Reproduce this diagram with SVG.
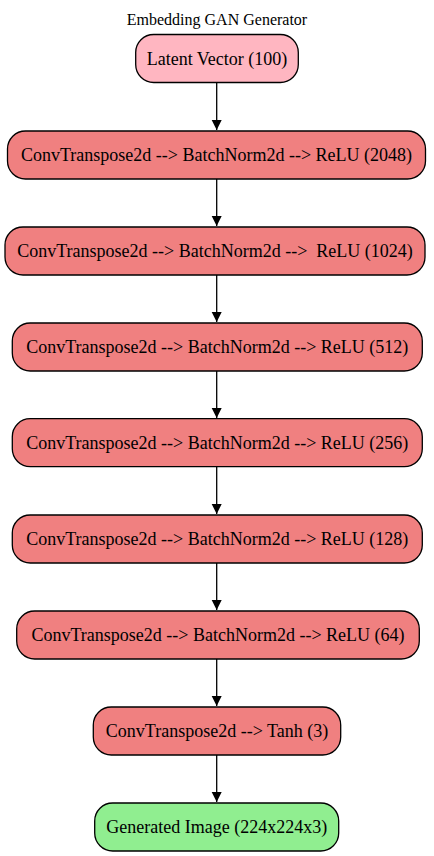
<svg xmlns="http://www.w3.org/2000/svg" width="434" height="856" viewBox="0 0 434 856">
<style>
rect{stroke:#000;stroke-width:1.3}
.p{fill:#ffb6c1}
.r{fill:#f08080}
.g{fill:#90ee90}
text{font-family:"Liberation Serif","Times New Roman",serif;fill:#000;text-anchor:middle;white-space:pre}
.n{font-size:18px}
.t{font-size:16px}
.e{stroke:#000;stroke-width:1.3;fill:none}
</style>
<defs>
<marker id="a" markerWidth="10" markerHeight="14" refX="10" refY="7" orient="auto" markerUnits="userSpaceOnUse">
<path d="M0,2 L10,7 L0,12 Z" fill="#000"/>
</marker>
</defs>
<rect width="434" height="856" fill="#fff" style="stroke:none"/>
<text class="t" x="217" y="25">Embedding GAN Generator</text>
<g id="edges">
<path class="e" d="M216.7,83 V130" marker-end="url(#a)"/>
<path class="e" d="M216.7,179 V226" marker-end="url(#a)"/>
<path class="e" d="M216.7,275 V322" marker-end="url(#a)"/>
<path class="e" d="M216.7,371 V418" marker-end="url(#a)"/>
<path class="e" d="M216.7,467 V514" marker-end="url(#a)"/>
<path class="e" d="M216.7,563 V610" marker-end="url(#a)"/>
<path class="e" d="M216.7,659 V706" marker-end="url(#a)"/>
<path class="e" d="M216.7,755 V802" marker-end="url(#a)"/>
</g>
<g id="latent"><rect class="p" x="135.7" y="34.5" width="162.6" height="48" rx="18"/><text class="n" x="217" y="64.5">Latent Vector (100)</text></g>
<g id="l2048"><rect class="r" x="7.5" y="131" width="418" height="48" rx="18"/><text class="n" x="216.5" y="161">ConvTranspose2d --&gt; BatchNorm2d --&gt; ReLU (2048)</text></g>
<g id="l1024"><rect class="r" x="5" y="227" width="420" height="48" rx="18"/><text class="n" x="215" y="257" xml:space="preserve">ConvTranspose2d --&gt; BatchNorm2d --&gt;  ReLU (1024)</text></g>
<g id="l512"><rect class="r" x="12.3" y="323" width="410" height="48" rx="18"/><text class="n" x="217.3" y="353">ConvTranspose2d --&gt; BatchNorm2d --&gt; ReLU (512)</text></g>
<g id="l256"><rect class="r" x="12.3" y="418.7" width="410" height="48" rx="18"/><text class="n" x="217.3" y="448.7">ConvTranspose2d --&gt; BatchNorm2d --&gt; ReLU (256)</text></g>
<g id="l128"><rect class="r" x="12.3" y="515" width="410" height="48" rx="18"/><text class="n" x="217.3" y="545">ConvTranspose2d --&gt; BatchNorm2d --&gt; ReLU (128)</text></g>
<g id="l64"><rect class="r" x="16.7" y="611" width="402.6" height="48" rx="18"/><text class="n" x="218" y="641">ConvTranspose2d --&gt; BatchNorm2d --&gt; ReLU (64)</text></g>
<g id="tanh"><rect class="r" x="93.3" y="707" width="247.4" height="48" rx="18"/><text class="n" x="217" y="737">ConvTranspose2d --&gt; Tanh (3)</text></g>
<g id="output"><rect class="g" x="94.7" y="803" width="244" height="48" rx="18"/><text class="n" x="216.7" y="833">Generated Image (224x224x3)</text></g>
</svg>
